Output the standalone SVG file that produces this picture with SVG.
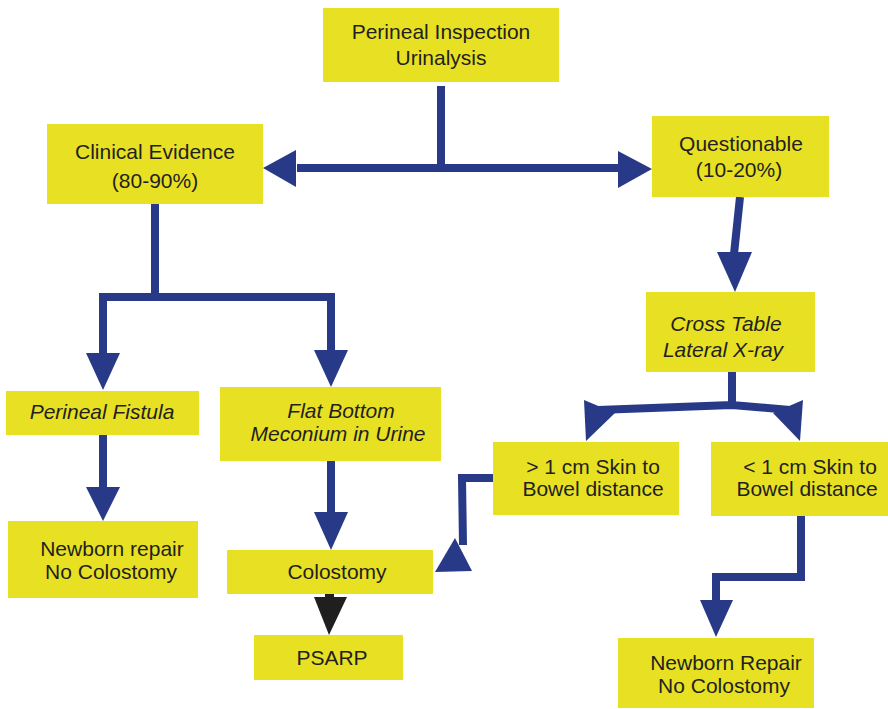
<svg xmlns="http://www.w3.org/2000/svg" width="888" height="709" viewBox="0 0 888 709">
<style>
.box{fill:#E8E123}
.t{font-family:"Liberation Sans",Arial,sans-serif;font-size:21px;fill:#231F20;text-anchor:middle}
.i{font-style:italic}
.ln{fill:none;stroke:#283A87;stroke-width:8;stroke-linejoin:miter}
.ah{fill:#283A87}
</style>
<rect width="888" height="709" fill="#FFFFFF"/>
<g id="connectors">
<path class="ln" d="M441,86 V168 M297,168 H620"/>
<polygon class="ah" points="263,168 296,150 296,187"/>
<polygon class="ah" points="652,169 618,151 618,188"/>
<path class="ln" d="M155,204 V297 M103,355 V297 H331 V352"/>
<polygon class="ah" points="86,353 120,353 103,390"/>
<polygon class="ah" points="314,350 348,350 331,387"/>
<path class="ln" d="M103,435 V489"/>
<polygon class="ah" points="86,487 120,487 103,521"/>
<path class="ln" d="M331,461 V514"/>
<polygon class="ah" points="314,512 348,512 331,550"/>
<rect x="325" y="593" width="9" height="6" fill="#1F1F1F"/>
<polygon points="314,597 347,597 329,635" fill="#1F1F1F"/>
<path class="ln" d="M740,197 L734,254"/>
<polygon class="ah" points="717,252 752,252 735,292"/>
<path class="ln" d="M732,372 V406 M598,410 L732,405 L790,410"/>
<polygon class="ah" points="584,400 615,413 586,441"/>
<polygon class="ah" points="803,400 773,413 800,441"/>
<path class="ln" d="M493,478 H462 L463,545"/>
<polygon class="ah" points="455,538 435,572 472,571"/>
<path class="ln" d="M801,516 V577 H716 V602"/>
<polygon class="ah" points="700,600 733,600 716,637"/>
</g>
<g id="n-inspection"><rect class="box" x="323" y="8" width="236" height="74"/><text class="t" x="441" y="39">Perineal Inspection</text><text class="t" x="441" y="65">Urinalysis</text></g>
<g id="n-clinical"><rect class="box" x="47" y="124" width="216" height="80"/><text class="t" x="155" y="159">Clinical Evidence</text><text class="t" x="155" y="188">(80-90%)</text></g>
<g id="n-questionable"><rect class="box" x="652" y="116" width="177" height="81"/><text class="t" x="741" y="151">Questionable</text><text class="t" x="739" y="177">(10-20%)</text></g>
<g id="n-xray"><rect class="box" x="646" y="292" width="169" height="80"/><text class="t i" x="726" y="331">Cross Table</text><text class="t i" x="723" y="357">Lateral X-ray</text></g>
<g id="n-fistula"><rect class="box" x="6" y="391" width="193" height="44"/><text class="t i" x="102" y="419">Perineal Fistula</text></g>
<g id="n-flat"><rect class="box" x="220" y="387" width="221" height="74"/><text class="t i" x="341" y="418">Flat Bottom</text><text class="t i" x="338" y="441">Meconium in Urine</text></g>
<g id="n-gt1"><rect class="box" x="493" y="442" width="186" height="73"/><text class="t" x="593" y="474">&gt; 1 cm Skin to</text><text class="t" x="593" y="496">Bowel distance</text></g>
<g id="n-lt1"><rect class="box" x="711" y="442" width="177" height="74"/><text class="t" x="810" y="474">&lt; 1 cm Skin to</text><text class="t" x="807" y="496">Bowel distance</text></g>
<g id="n-newborn-left"><rect class="box" x="8" y="521" width="190" height="77"/><text class="t" x="112" y="556">Newborn repair</text><text class="t" x="111" y="579">No Colostomy</text></g>
<g id="n-colostomy"><rect class="box" x="227" y="550" width="206" height="44"/><text class="t" x="337" y="579">Colostomy</text></g>
<g id="n-psarp"><rect class="box" x="254" y="635" width="149" height="45"/><text class="t" x="332" y="665">PSARP</text></g>
<g id="n-newborn-right"><rect class="box" x="618" y="638" width="196" height="70"/><text class="t" x="726" y="670">Newborn Repair</text><text class="t" x="724" y="693">No Colostomy</text></g>
</svg>
